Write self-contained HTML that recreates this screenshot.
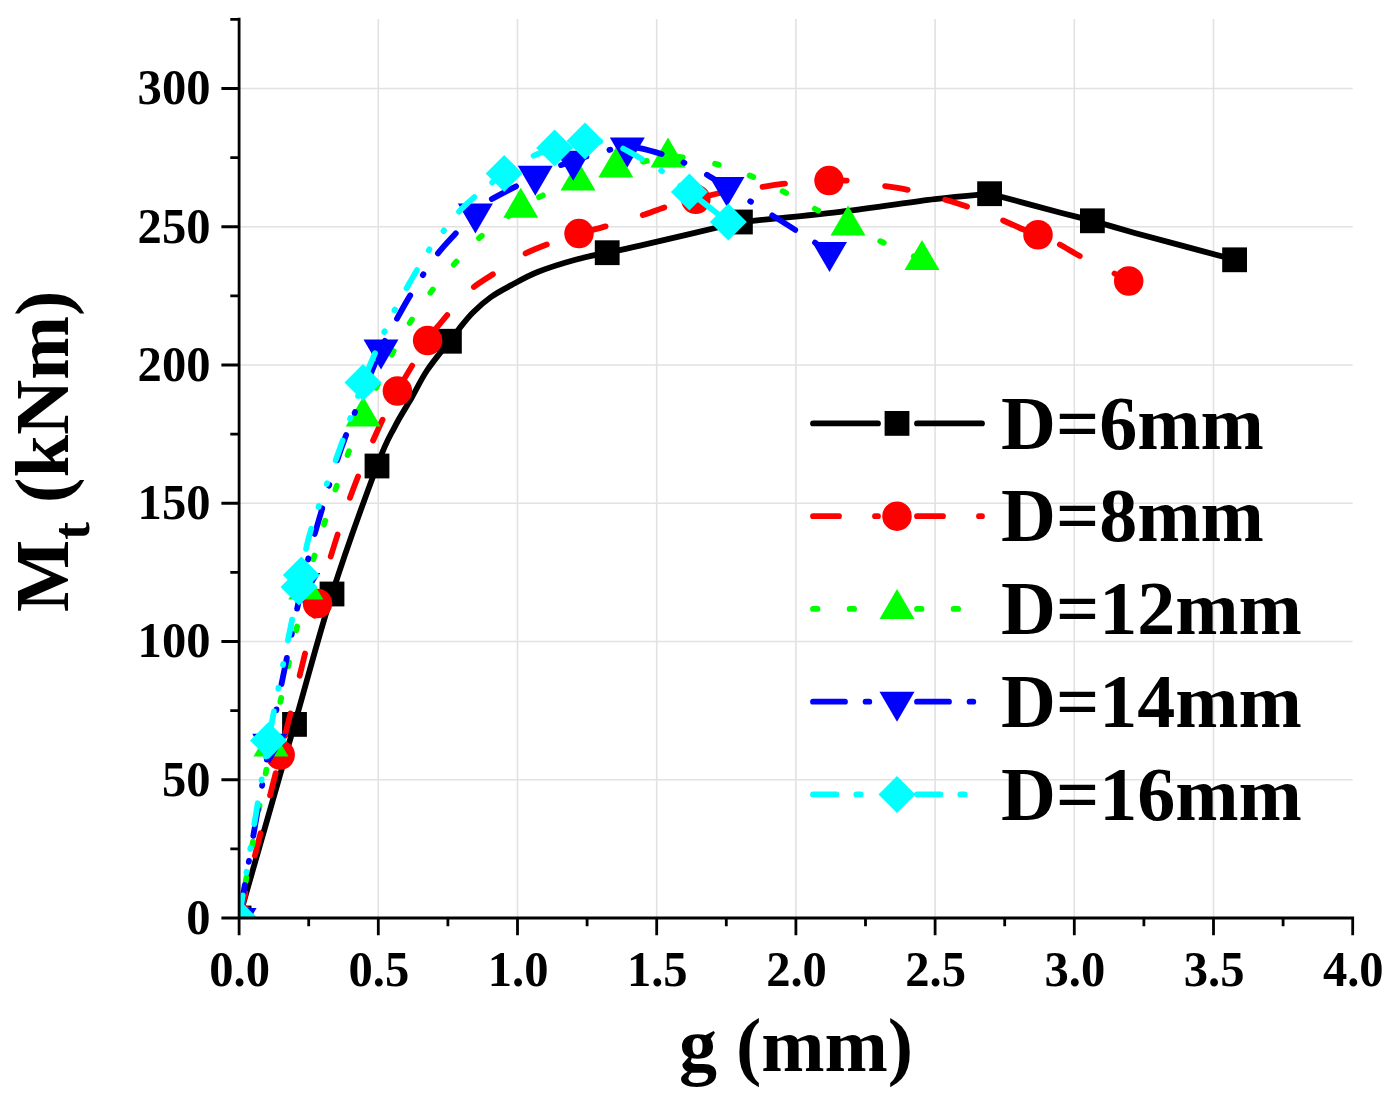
<!DOCTYPE html><html><head><meta charset="utf-8"><style>html,body{margin:0;padding:0;background:#fff;width:1393px;height:1100px;overflow:hidden}svg{display:block;will-change:transform}text{font-family:"Liberation Serif", serif;font-weight:bold;fill:#000}</style></head><body>
<svg width="1393" height="1100" viewBox="0 0 1393 1100">
<rect width="100%" height="100%" fill="#fff"/>
<defs><clipPath id="pc"><rect x="239.1" y="18" width="1114.6" height="900.0"/></clipPath></defs>
<path d="M378.30 19V918.0M517.50 19V918.0M656.70 19V918.0M795.90 19V918.0M935.10 19V918.0M1074.30 19V918.0M1213.50 19V918.0M239.1 779.75H1352.70M239.1 641.50H1352.70M239.1 503.25H1352.70M239.1 365.00H1352.70M239.1 226.75H1352.70M239.1 88.50H1352.70" stroke="#e2e2e2" stroke-width="1.6" fill="none"/>
<g clip-path="url(#pc)">
<path d="M239.10 918.00C248.33 885.73 279.02 778.40 294.50 724.40C309.98 670.40 318.25 637.07 332.00 594.00C345.75 550.93 366.52 493.90 377.00 466.00C387.48 438.10 389.08 438.05 394.90 426.60C400.72 415.15 406.55 406.65 411.90 397.30C417.25 387.95 420.75 379.84 427.00 370.50C433.25 361.16 445.67 346.12 449.40 341.25C450.98 339.21 455.02 333.76 458.90 329.00C462.78 324.24 467.35 318.03 472.70 312.70C478.05 307.37 484.63 301.55 491.00 297.00C497.37 292.45 503.03 289.60 510.90 285.40C518.77 281.20 527.30 276.12 538.20 271.80C549.10 267.48 564.80 262.68 576.30 259.50C587.80 256.32 596.58 255.00 607.20 252.70C617.82 250.40 617.80 250.82 640.00 245.70C662.20 240.58 723.67 225.95 740.40 222.00C757.00 220.32 807.60 215.70 840.00 211.90C872.40 208.10 909.87 202.23 934.80 199.20C959.73 196.17 980.47 194.62 989.60 193.70C1001.60 196.92 1049.60 209.78 1061.60 213.00C1066.73 214.30 1087.27 219.50 1092.40 220.80C1099.47 222.83 1127.73 230.97 1134.80 233.00C1151.43 237.47 1217.97 255.33 1234.60 259.80" fill="none" stroke="#000" stroke-width="5.8" stroke-linecap="round" stroke-linejoin="round"/>
<rect x="226.70" y="905.60" width="24.8" height="24.8" fill="#000"/>
<rect x="282.10" y="712.00" width="24.8" height="24.8" fill="#000"/>
<rect x="319.60" y="581.60" width="24.8" height="24.8" fill="#000"/>
<rect x="364.60" y="453.60" width="24.8" height="24.8" fill="#000"/>
<rect x="437.00" y="328.85" width="24.8" height="24.8" fill="#000"/>
<rect x="594.80" y="240.30" width="24.8" height="24.8" fill="#000"/>
<rect x="728.00" y="209.60" width="24.8" height="24.8" fill="#000"/>
<rect x="977.20" y="181.30" width="24.8" height="24.8" fill="#000"/>
<rect x="1080.00" y="208.40" width="24.8" height="24.8" fill="#000"/>
<rect x="1222.20" y="247.40" width="24.8" height="24.8" fill="#000"/>
<path d="M239.10 918.00C245.95 890.83 267.13 807.42 280.20 755.00C293.27 702.58 308.53 638.33 317.50 603.50C326.47 568.67 327.97 565.30 334.00 546.00C340.03 526.70 346.53 506.75 353.70 487.70C360.87 468.65 369.72 447.82 377.00 431.70C384.28 415.58 388.97 406.20 397.40 391.00C405.83 375.80 420.33 351.92 427.60 340.50C434.87 329.08 434.27 330.58 441.00 322.50C447.73 314.42 459.17 300.17 468.00 292.00C476.83 283.83 485.03 279.60 494.00 273.50C502.97 267.40 512.40 260.45 521.80 255.40C531.20 250.35 540.87 246.83 550.40 243.20C559.93 239.57 569.23 236.57 579.00 233.60C588.77 230.63 598.77 228.35 609.00 225.40C619.23 222.45 630.62 219.07 640.40 215.90C650.18 212.73 658.47 209.17 667.70 206.40C676.93 203.63 687.08 201.53 695.80 199.30C704.52 197.07 709.02 195.07 720.00 193.00C730.98 190.93 750.08 188.53 761.70 186.90C773.32 185.27 778.48 184.25 789.70 183.20C800.92 182.15 818.62 180.97 829.00 180.60C839.38 180.23 842.93 180.13 852.00 181.00C861.07 181.87 873.33 184.17 883.40 185.80C893.47 187.43 902.53 188.62 912.40 190.80C922.27 192.98 932.82 196.05 942.60 198.90C952.38 201.75 961.48 204.50 971.10 207.90C980.72 211.30 991.08 215.48 1000.30 219.30C1009.52 223.12 1020.12 228.23 1026.40 230.80C1032.68 233.37 1032.75 232.58 1038.00 234.70C1043.25 236.82 1050.52 239.72 1057.90 243.50C1065.28 247.28 1073.35 252.65 1082.30 257.40C1091.25 262.15 1103.87 268.07 1111.60 272.00C1119.33 275.93 1125.85 279.50 1128.70 281.00" fill="none" stroke="#f00" stroke-width="5.8" stroke-linecap="round" stroke-linejoin="round" stroke-dasharray="23 38.69" stroke-dashoffset="-2.86"/>
<circle cx="239.10" cy="918.00" r="14.75" fill="#f00"/>
<circle cx="280.20" cy="755.00" r="14.75" fill="#f00"/>
<circle cx="317.50" cy="603.50" r="14.75" fill="#f00"/>
<circle cx="397.40" cy="391.00" r="14.75" fill="#f00"/>
<circle cx="427.60" cy="340.50" r="14.75" fill="#f00"/>
<circle cx="579.00" cy="233.60" r="14.75" fill="#f00"/>
<circle cx="695.80" cy="199.30" r="14.75" fill="#f00"/>
<circle cx="829.00" cy="180.60" r="14.75" fill="#f00"/>
<circle cx="1038.00" cy="234.70" r="14.75" fill="#f00"/>
<circle cx="1128.70" cy="281.00" r="14.75" fill="#f00"/>
<path d="M239.10 918.00C244.42 889.40 259.88 801.15 271.00 746.40C282.12 691.65 296.87 626.80 305.80 589.50C314.73 552.20 317.58 545.15 324.60 522.60C331.62 500.05 341.47 471.87 347.90 454.20C354.33 436.53 355.80 433.37 363.20 416.60C370.60 399.83 384.33 369.53 392.30 353.60C400.27 337.67 404.60 331.22 411.00 321.00C417.40 310.78 423.73 301.52 430.70 292.30C437.67 283.08 444.70 274.77 452.80 265.70C460.90 256.63 467.98 247.55 479.30 237.90C490.62 228.25 510.33 214.78 520.70 207.80C531.07 200.82 531.95 200.57 541.50 196.00C551.05 191.43 565.62 185.17 578.00 180.40C590.38 175.63 604.30 170.67 615.80 167.40C627.30 164.13 638.30 162.43 647.00 160.80C655.70 159.17 661.75 158.13 668.00 157.60C674.25 157.07 676.17 156.43 684.50 157.60C692.83 158.77 706.75 161.45 718.00 164.60C729.25 167.75 740.83 171.87 752.00 176.50C763.17 181.13 774.17 186.82 785.00 192.40C795.83 197.98 806.50 204.47 817.00 210.00C827.50 215.53 837.17 220.27 848.00 225.60C858.83 230.93 869.67 236.27 882.00 242.00C894.33 247.73 915.33 257.00 922.00 260.00" fill="none" stroke="#0f0" stroke-width="5.8" stroke-linecap="round" stroke-linejoin="round" stroke-dasharray="4 32.58" stroke-dashoffset="-0.5"/>
<path d="M239.10 898.00L256.60 928.00L221.60 928.00Z" fill="#0f0"/>
<path d="M271.00 726.40L288.50 756.40L253.50 756.40Z" fill="#0f0"/>
<path d="M305.80 569.50L323.30 599.50L288.30 599.50Z" fill="#0f0"/>
<path d="M363.20 396.60L380.70 426.60L345.70 426.60Z" fill="#0f0"/>
<path d="M520.70 187.80L538.20 217.80L503.20 217.80Z" fill="#0f0"/>
<path d="M578.00 160.40L595.50 190.40L560.50 190.40Z" fill="#0f0"/>
<path d="M615.80 147.40L633.30 177.40L598.30 177.40Z" fill="#0f0"/>
<path d="M668.00 137.60L685.50 167.60L650.50 167.60Z" fill="#0f0"/>
<path d="M848.00 205.60L865.50 235.60L830.50 235.60Z" fill="#0f0"/>
<path d="M922.00 240.00L939.50 270.00L904.50 270.00Z" fill="#0f0"/>
<path d="M239.10 918.00C244.22 888.97 259.20 799.63 269.80 743.80C280.40 687.97 294.33 620.97 302.70 583.00C311.07 545.03 312.95 540.17 320.00 516.00C327.05 491.83 334.83 465.75 345.00 438.00C355.17 410.25 372.58 368.93 381.00 349.50C389.42 330.07 390.37 330.85 395.50 321.40C400.63 311.95 405.22 303.50 411.80 292.80C418.38 282.10 427.67 267.12 435.00 257.20C442.33 247.28 449.07 240.57 455.80 233.30C462.53 226.03 470.20 218.82 475.40 213.60C480.60 208.38 479.65 206.85 487.00 202.00C494.35 197.15 511.45 188.87 519.50 184.50C527.55 180.13 528.55 178.97 535.30 175.80C542.05 172.63 553.68 168.00 560.00 165.50C566.32 163.00 568.12 162.50 573.20 160.80C578.28 159.10 584.07 157.20 590.50 155.30C596.93 153.40 605.67 150.68 611.80 149.40C617.93 148.12 622.68 147.80 627.30 147.60C631.92 147.40 632.87 146.85 639.50 148.20C646.13 149.55 659.22 153.07 667.10 155.70C674.98 158.33 680.37 160.95 686.80 164.00C693.23 167.05 699.00 170.17 705.70 174.00C712.40 177.83 719.12 182.17 727.00 187.00C734.88 191.83 745.60 198.35 753.00 203.00C760.40 207.65 763.48 209.87 771.40 214.90C779.32 219.93 790.82 227.02 800.50 233.20C810.18 239.38 824.67 248.87 829.50 252.00" fill="none" stroke="#00f" stroke-width="5.8" stroke-linecap="round" stroke-linejoin="round" stroke-dasharray="27 23.6 1 25.4" stroke-dashoffset="-6.5"/>
<path d="M221.60 908.00L256.60 908.00L239.10 938.00Z" fill="#00f"/>
<path d="M252.30 733.80L287.30 733.80L269.80 763.80Z" fill="#00f"/>
<path d="M285.20 573.00L320.20 573.00L302.70 603.00Z" fill="#00f"/>
<path d="M363.50 339.50L398.50 339.50L381.00 369.50Z" fill="#00f"/>
<path d="M457.90 203.60L492.90 203.60L475.40 233.60Z" fill="#00f"/>
<path d="M517.80 165.80L552.80 165.80L535.30 195.80Z" fill="#00f"/>
<path d="M555.70 150.80L590.70 150.80L573.20 180.80Z" fill="#00f"/>
<path d="M609.80 137.60L644.80 137.60L627.30 167.60Z" fill="#00f"/>
<path d="M709.50 177.00L744.50 177.00L727.00 207.00Z" fill="#00f"/>
<path d="M812.00 242.00L847.00 242.00L829.50 272.00Z" fill="#00f"/>
<path d="M239.10 918.00C244.00 888.42 258.35 796.67 268.50 740.50C278.65 684.33 292.83 616.42 300.00 581.00C307.17 545.58 305.00 549.67 311.50 528.00C318.00 506.33 330.42 475.23 339.00 451.00C347.58 426.77 355.38 402.60 363.00 382.60C370.62 362.60 379.40 343.15 384.70 331.00C390.00 318.85 390.42 318.13 394.80 309.70C399.18 301.27 405.47 290.10 411.00 280.40C416.53 270.70 422.67 259.62 428.00 251.50C433.33 243.38 436.88 239.32 443.00 231.70C449.12 224.08 454.50 215.52 464.70 205.80C474.90 196.08 492.57 181.82 504.20 173.40C515.83 164.98 526.10 159.53 534.50 155.30C542.90 151.07 546.18 150.38 554.60 148.00C563.02 145.62 577.17 142.03 585.00 141.00C592.83 139.97 595.67 140.73 601.60 141.80C607.53 142.87 613.62 144.37 620.60 147.40C627.58 150.43 637.00 156.32 643.50 160.00C650.00 163.68 654.22 165.67 659.60 169.50C664.98 173.33 670.83 179.25 675.80 183.00C680.77 186.75 680.65 185.50 689.40 192.00C698.15 198.50 721.82 217.00 728.30 222.00" fill="none" stroke="#0ff" stroke-width="5.8" stroke-linecap="round" stroke-linejoin="round" stroke-dasharray="21 23 1 23.2 1 24.1" stroke-dashoffset="-1.9"/>
<path d="M239.10 899.50L257.60 918.00L239.10 936.50L220.60 918.00Z" fill="#0ff"/>
<path d="M268.50 722.00L287.00 740.50L268.50 759.00L250.00 740.50Z" fill="#0ff"/>
<path d="M299.00 568.50L317.50 587.00L299.00 605.50L280.50 587.00Z" fill="#0ff"/>
<path d="M301.30 556.50L319.80 575.00L301.30 593.50L282.80 575.00Z" fill="#0ff"/>
<path d="M363.00 364.10L381.50 382.60L363.00 401.10L344.50 382.60Z" fill="#0ff"/>
<path d="M504.20 154.90L522.70 173.40L504.20 191.90L485.70 173.40Z" fill="#0ff"/>
<path d="M554.60 129.50L573.10 148.00L554.60 166.50L536.10 148.00Z" fill="#0ff"/>
<path d="M585.00 122.50L603.50 141.00L585.00 159.50L566.50 141.00Z" fill="#0ff"/>
<path d="M689.40 173.50L707.90 192.00L689.40 210.50L670.90 192.00Z" fill="#0ff"/>
<path d="M728.30 203.50L746.80 222.00L728.30 240.50L709.80 222.00Z" fill="#0ff"/>
</g>
<path d="M239.1 17.7V919.4M237.7 918.0H1354.10M221.40 918.00H239.1M221.40 779.75H239.1M221.40 641.50H239.1M221.40 503.25H239.1M221.40 365.00H239.1M221.40 226.75H239.1M221.40 88.50H239.1M230.30 848.88H239.1M230.30 710.62H239.1M230.30 572.38H239.1M230.30 434.12H239.1M230.30 295.88H239.1M230.30 157.62H239.1M230.30 19.38H239.1M239.10 918.0V935.3M378.30 918.0V935.3M517.50 918.0V935.3M656.70 918.0V935.3M795.90 918.0V935.3M935.10 918.0V935.3M1074.30 918.0V935.3M1213.50 918.0V935.3M1352.70 918.0V935.3M308.70 918.0V926.3M447.90 918.0V926.3M587.10 918.0V926.3M726.30 918.0V926.3M865.50 918.0V926.3M1004.70 918.0V926.3M1143.90 918.0V926.3M1283.10 918.0V926.3" stroke="#000" stroke-width="2.8" fill="none"/>
<text transform="translate(210.5 933.80) scale(0.972 1)" font-size="50" text-anchor="end">0</text>
<text transform="translate(210.5 795.55) scale(0.972 1)" font-size="50" text-anchor="end">50</text>
<text transform="translate(210.5 657.30) scale(0.972 1)" font-size="50" text-anchor="end">100</text>
<text transform="translate(210.5 519.05) scale(0.972 1)" font-size="50" text-anchor="end">150</text>
<text transform="translate(210.5 380.80) scale(0.972 1)" font-size="50" text-anchor="end">200</text>
<text transform="translate(210.5 242.55) scale(0.972 1)" font-size="50" text-anchor="end">250</text>
<text transform="translate(210.5 104.30) scale(0.972 1)" font-size="50" text-anchor="end">300</text>
<text transform="translate(239.70 985.5) scale(0.972 1)" font-size="50" text-anchor="middle">0.0</text>
<text transform="translate(378.90 985.5) scale(0.972 1)" font-size="50" text-anchor="middle">0.5</text>
<text transform="translate(518.10 985.5) scale(0.972 1)" font-size="50" text-anchor="middle">1.0</text>
<text transform="translate(657.30 985.5) scale(0.972 1)" font-size="50" text-anchor="middle">1.5</text>
<text transform="translate(796.50 985.5) scale(0.972 1)" font-size="50" text-anchor="middle">2.0</text>
<text transform="translate(935.70 985.5) scale(0.972 1)" font-size="50" text-anchor="middle">2.5</text>
<text transform="translate(1074.90 985.5) scale(0.972 1)" font-size="50" text-anchor="middle">3.0</text>
<text transform="translate(1214.10 985.5) scale(0.972 1)" font-size="50" text-anchor="middle">3.5</text>
<text transform="translate(1353.30 985.5) scale(0.972 1)" font-size="50" text-anchor="middle">4.0</text>
<text x="796" y="1071.4" font-size="76" text-anchor="middle">g (mm)</text>
<text transform="translate(67.6 612) rotate(-90)" font-size="76.5">M<tspan font-size="53" dy="21">t</tspan><tspan dy="-21"> (kNm)</tspan></text>
<path d="M813 423.40H878M917 423.40H982" fill="none" stroke="#000" stroke-width="5.8" stroke-linecap="round"/>
<rect x="884.60" y="411.00" width="24.8" height="24.8" fill="#000"/>
<text x="1001" y="448.50" font-size="76">D=6mm</text>
<path d="M813 516.15H878M917 516.15H982" fill="none" stroke="#f00" stroke-width="5.8" stroke-linecap="round" stroke-dasharray="26 36"/>
<circle cx="897.00" cy="516.15" r="14.75" fill="#f00"/>
<text x="1001" y="541.45" font-size="76">D=8mm</text>
<path d="M813 608.90H878M917 608.90H982" fill="none" stroke="#0f0" stroke-width="5.8" stroke-linecap="round" stroke-dasharray="4.5 32.1"/>
<path d="M897.00 588.90L914.50 618.90L879.50 618.90Z" fill="#0f0"/>
<text x="1001" y="634.40" font-size="76">D=12mm</text>
<path d="M813 701.65H878M917 701.65H982" fill="none" stroke="#00f" stroke-width="5.8" stroke-linecap="round" stroke-dasharray="32 20.6 3.7 40"/>
<path d="M879.50 691.65L914.50 691.65L897.00 721.65Z" fill="#00f"/>
<text x="1001" y="727.35" font-size="76">D=14mm</text>
<path d="M813 794.40H878M917 794.40H982" fill="none" stroke="#0ff" stroke-width="5.8" stroke-linecap="round" stroke-dasharray="23.4 19.9 4.4 40"/>
<path d="M897.00 775.90L915.50 794.40L897.00 812.90L878.50 794.40Z" fill="#0ff"/>
<text x="1001" y="820.30" font-size="76">D=16mm</text>
</svg></body></html>
